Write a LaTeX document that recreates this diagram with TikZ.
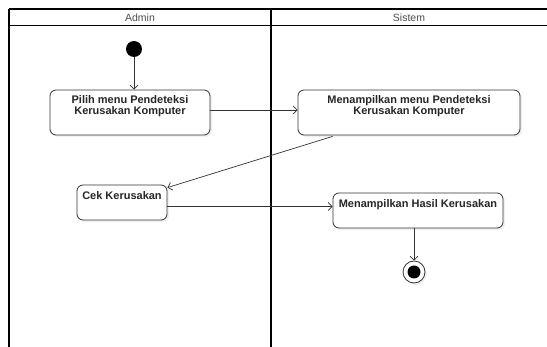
\documentclass[tikz,border=0pt]{standalone}
\usepackage{fontspec}
\setmainfont{Liberation Sans}
\usetikzlibrary{arrows.meta,shadows,calc}

\tikzset{
	actbox/.style={draw=black!80, line width=0.8pt, rounded corners=6pt, fill=white,
		drop shadow={opacity=0.12, shadow xshift=2pt, shadow yshift=-2pt}},
	acttext/.style={font=\fontsize{11}{11}\selectfont\bfseries, text=black!85, align=center, inner sep=0pt},
	lane/.style={font=\fontsize{10.5}{11}\selectfont, text=black!70},
	flow/.style={draw=black!80, line width=0.7pt, -{Straight Barb[length=4pt, width=8pt]}},
}

\begin{document}
\begin{tikzpicture}[x=1pt, y=-1pt]
	\useasboundingbox (0,0) rectangle (547,347);

	% swimlanes
	\draw[line width=1.5pt] (9,9) -- (547,9);
	\draw[line width=1pt] (9,26) -- (547,26);
	\draw[line width=1.5pt] (9,9) -- (9,347);
	\draw[line width=1.5pt] (271,9) -- (271,347);
	\node[lane] (admin) at (140,17.5) {Admin};
	\node[lane] (sistem) at (409,17.5) {Sistem};

	% start / end
	\node[circle, fill=black, minimum size=16pt, inner sep=0pt] (start) at (134,49) {};
	\node[circle, draw=black!80, fill=white, line width=0.8pt, minimum size=22pt, inner sep=0pt,
		drop shadow={opacity=0.12, shadow xshift=2pt, shadow yshift=-2pt}] (end) at (414,272) {};
	\node[circle, fill=black, minimum size=13pt, inner sep=0pt] (endin) at (end) {};

	% actions
	\node[actbox, minimum width=160pt, minimum height=45pt] (pilih) at (130,112.5) {};
	\node[acttext, anchor=north] (pilih-t) at ($(pilih.north)+(0,6)$) {Pilih menu Pendeteksi\\Kerusakan Komputer};

	\node[actbox, minimum width=222pt, minimum height=45pt] (tampil) at (409,112.5) {};
	\node[acttext, anchor=north] (tampil-t) at ($(tampil.north)+(0,6)$) {Menampilkan menu Pendeteksi\\Kerusakan Komputer};

	\node[actbox, minimum width=90pt, minimum height=35pt] (cek) at (122,202.5) {};
	\node[acttext, anchor=north] (cek-t) at ($(cek.north)+(0,7)$) {Cek Kerusakan};

	\node[actbox, minimum width=170pt, minimum height=35pt] (hasil) at (418,210.5) {};
	\node[acttext, anchor=north] (hasil-t) at ($(hasil.north)+(0,7)$) {Menampilkan Hasil Kerusakan};

	% flows
	\draw[flow] (start) -- (start |- pilih.north);
	\draw[flow] ($(pilih.east)+(0,-2.5)$) -- ($(tampil.west)+(0,-2.5)$);
	\draw[flow] ($(tampil.south west)+(35,1)$) -- ($(cek.north east)+(0,3)$);
	\draw[flow] ($(cek.east)+(0,4)$) -- ($(hasil.west)+(0,-4)$);
	\draw[flow] (end |- hasil.south) -- (end.north);
\end{tikzpicture}
\end{document}
